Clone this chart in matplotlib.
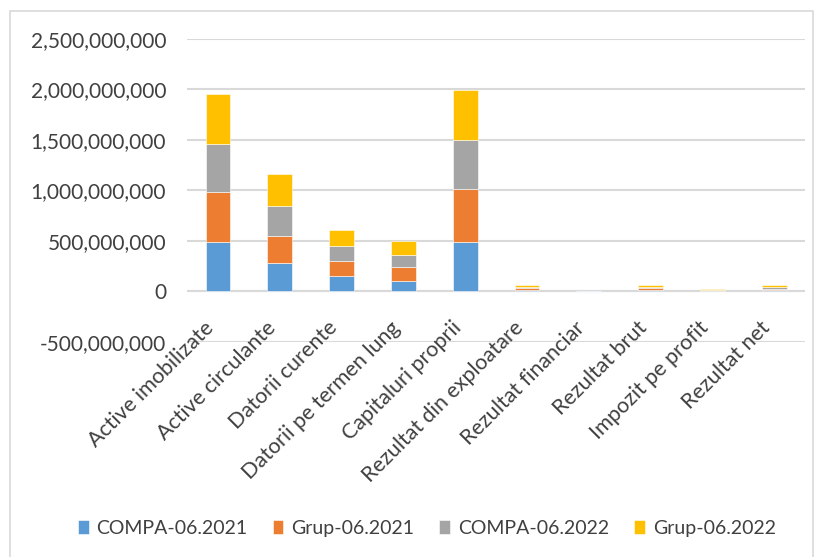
import numpy as np
import matplotlib.pyplot as plt
from matplotlib.patches import Rectangle
from matplotlib.ticker import FuncFormatter

# -----------------------------
# Data (lei)
# -----------------------------
categories = ['Active imobilizate', 'Active circulante', 'Datorii curente',
              'Datorii pe termen lung', 'Capitaluri proprii',
              'Rezultat din exploatare', 'Rezultat financiar', 'Rezultat brut',
              'Impozit pe profit', 'Rezultat net']
series_names = ['COMPA-06.2021', 'Grup-06.2021', 'COMPA-06.2022', 'Grup-06.2022']

compa_2021 = [495e6, 280e6, 158e6, 99e6, 495e6, 18e6, -2e6, 17e6, 4e6, 15e6]
grup_2021 = [495e6, 274e6, 139e6, 139e6, 518e6, 17e6, -3e6, 17e6, 4e6, 13e6]
compa_2022 = [475e6, 297e6, 158e6, 119e6, 488e6, 12e6, 2e6, 13e6, 6e6, 14e6]
grup_2022 = [492e6, 313e6, 158e6, 139e6, 495e6, 22e6, -3e6, 22e6, 12e6, 20e6]

colors = ['#5b9bd5', '#ed7d31', '#a5a5a5', '#ffc000']
text_color = '#404040'

plt.rcParams['font.family'] = ['Lato', 'DejaVu Sans']

fig = plt.figure(figsize=(8.24, 5.57), dpi=100)
ax = fig.add_axes([0.227, 0.386, 0.750, 0.544])

x = np.arange(len(categories))
pos_base = np.zeros(len(categories))
neg_base = np.zeros(len(categories))
for name, vals, c in zip(series_names, [compa_2021, grup_2021, compa_2022, grup_2022], colors):
    vals = np.array(vals)
    base = np.where(vals >= 0, pos_base, neg_base)
    ax.bar(x, vals, 0.4, bottom=base, color=c, label=name, zorder=3,
           edgecolor='white', linewidth=0.4)
    pos_base += np.where(vals >= 0, vals, 0)
    neg_base += np.where(vals < 0, vals, 0)

ax.set_ylim(-500e6, 2500e6)
ax.set_xlim(-0.5, len(categories) - 0.5)
ax.set_yticks(np.arange(-500e6, 2500e6 + 1, 500e6))
ax.yaxis.set_major_formatter(FuncFormatter(lambda v, p: f'{v:,.0f}'))
ax.grid(axis='y', color='#d9d9d9', linewidth=1.5, zorder=0)
ax.axhline(0, color='#d9d9d9', linewidth=1.5, zorder=1)
for s in ax.spines.values():
    s.set_visible(False)
ax.tick_params(axis='y', length=0, labelsize=15, labelcolor=text_color, pad=15)

# category labels sit next to the zero line (Excel style)
ax.set_xticks([])
for i, lab in enumerate(categories):
    ax.annotate(lab, (i, 0), xytext=(-14, -26), textcoords='offset pixels',
                rotation=45, ha='right', va='top', rotation_mode='anchor',
                fontsize=15.5, color=text_color, annotation_clip=False)

fig.legend(loc='lower center', bbox_to_anchor=(0.518, 0.005), ncol=4, frameon=False,
           fontsize=14, handlelength=0.55, handleheight=0.7, handletextpad=0.4,
           columnspacing=1.3, labelcolor=text_color)

fig.patches.append(Rectangle((10 / 824, -0.01), 803 / 824, 1 - 11 / 557 + 0.01,
                             transform=fig.transFigure, fill=False,
                             edgecolor='#d9d9d9', linewidth=1.2))

fig.savefig('out.png', dpi=100)
